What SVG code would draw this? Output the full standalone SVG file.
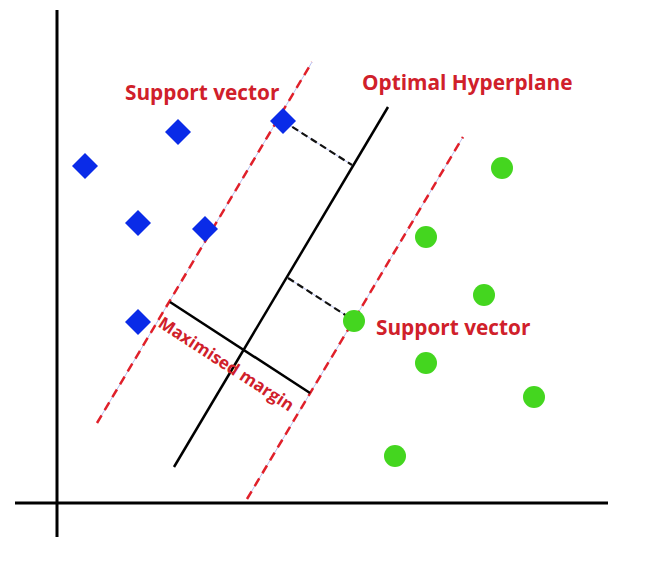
<svg xmlns="http://www.w3.org/2000/svg" width="645" height="567" viewBox="0 0 645 567">
<style>
.axis{stroke:#000;stroke-width:3;fill:none}
.guide{stroke:#b8c0f0;stroke-width:1;fill:none}
.margin{stroke:#e0202a;stroke-width:2.5;stroke-dasharray:9 6;fill:none}
.solid{stroke:#000;stroke-width:2.5;fill:none}
.perp{stroke:#111;stroke-width:2.2;stroke-dasharray:7 4;fill:none}
.lbl{font-family:"Open Sans","Liberation Sans",sans-serif;font-weight:700;font-size:20.8px;fill:#d0202a}
.blue{fill:#0a2be8}
.green{fill:#44d61f}
</style>
<g id="axes">
<line class="axis" x1="57" y1="10" x2="57" y2="537"/>
<line class="axis" x1="15" y1="503" x2="608" y2="503"/>
</g>
<g id="connectors">
<line class="guide" x1="97" y1="423" x2="312" y2="62"/>
<line class="margin" x1="97" y1="423" x2="312" y2="62"/>
<line class="guide" x1="247" y1="499" x2="463" y2="137"/>
<line class="margin" x1="247" y1="499" x2="463" y2="137"/>
<line class="solid" x1="174" y1="467" x2="388" y2="107"/>
<line class="guide" x1="283" y1="121" x2="352" y2="165"/>
<line class="perp" x1="283" y1="121" x2="352" y2="165"/>
<line class="guide" x1="288" y1="278" x2="350" y2="318"/>
<line class="perp" x1="288" y1="278" x2="350" y2="318"/>
<line class="solid" x1="170" y1="302" x2="310" y2="393"/>
</g>
<g id="blue-points">
<polygon class="blue" points="85,153 98,166 85,179 72,166"/>
<polygon class="blue" points="178,119 191,132 178,145 165,132"/>
<polygon class="blue" points="283,108 296,121 283,134 270,121"/>
<polygon class="blue" points="138,210 151,223 138,236 125,223"/>
<polygon class="blue" points="205,216 218,229 205,242 192,229"/>
<polygon class="blue" points="138,309 151,322 138,335 125,322"/>
</g>
<g id="green-points">
<circle class="green" cx="502" cy="168" r="11"/>
<circle class="green" cx="426" cy="237" r="11"/>
<circle class="green" cx="484" cy="295" r="11"/>
<circle class="green" cx="354" cy="321" r="11"/>
<circle class="green" cx="426" cy="363" r="11"/>
<circle class="green" cx="534" cy="397" r="11"/>
<circle class="green" cx="395" cy="456" r="11"/>
</g>
<g id="labels">
<text class="lbl" x="125" y="100">Support vector</text>
<text class="lbl" x="362" y="90">Optimal Hyperplane</text>
<text class="lbl" x="376" y="335">Support vector</text>
<text class="lbl" style="font-size:17px" transform="translate(157,326) rotate(33)">Maximised margin</text>
</g>
</svg>
